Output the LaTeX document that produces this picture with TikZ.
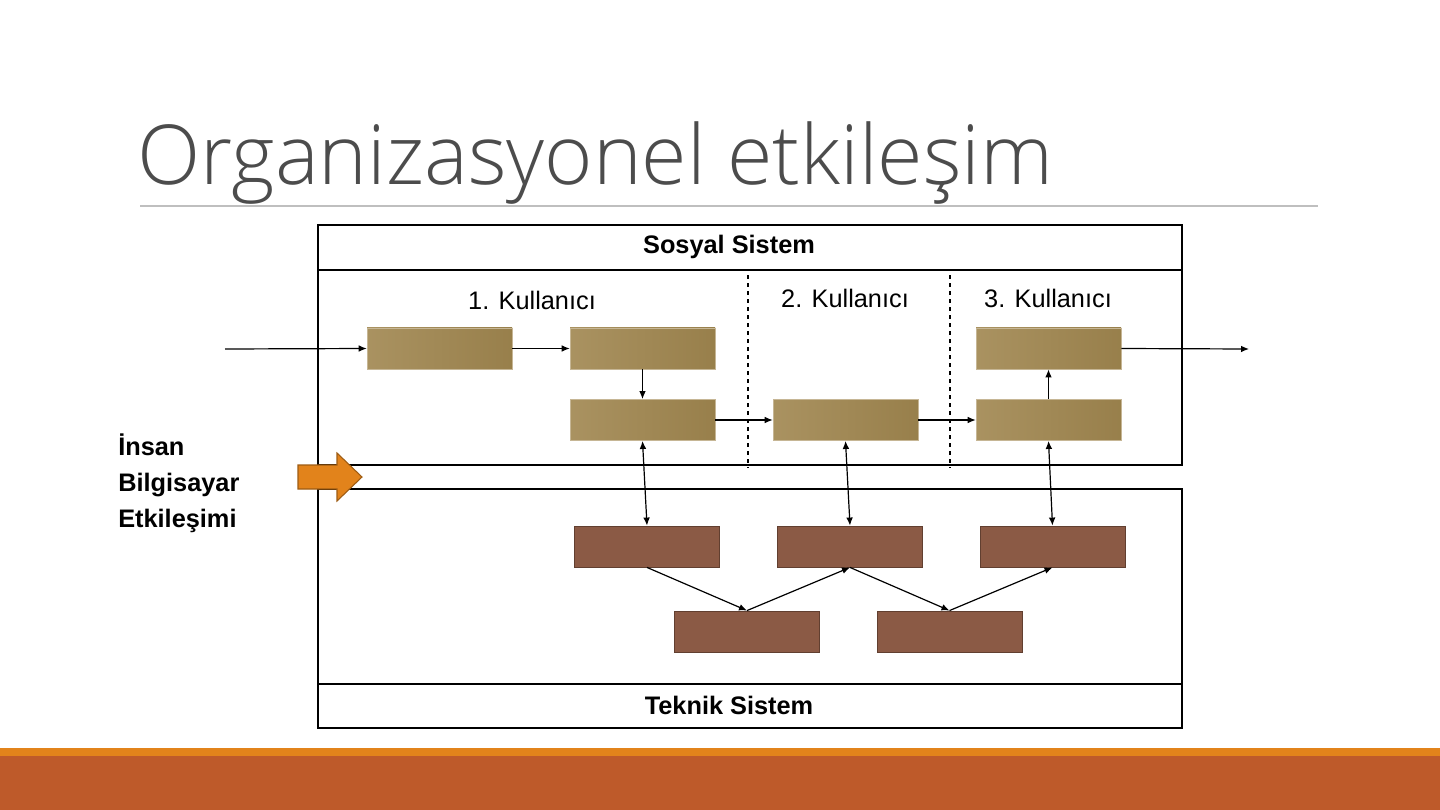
\documentclass[tikz,border=0pt]{standalone}
\usepackage{fontspec}
\setmainfont{Liberation Sans}
\newfontfamily\titlefont{Open Sans Light}
\usetikzlibrary{arrows.meta,shapes.arrows}
\definecolor{tan}{HTML}{A0864F}
\definecolor{brn}{HTML}{8B5A45}
\definecolor{orng}{HTML}{E2831B}
\definecolor{rust}{HTML}{BE5A2A}
\tikzset{
 tb/.style={draw=tan!60!white,fill=tan,minimum width=108.75pt,minimum height=31pt,inner sep=0pt,shade,left color=tan!90!white,right color=tan!95!black},
 bb/.style={draw=brn!70!black,fill=brn,minimum width=108.75pt,minimum height=31pt,inner sep=0pt},
 ar/.style={-{Latex[length=6pt,width=5pt]},line width=0.9pt},
 dar/.style={{Latex[length=6pt,width=5pt]}-{Latex[length=6pt,width=5pt]},line width=0.9pt},
 lab/.style={font=\fontsize{19}{22}\selectfont,inner sep=0pt},
}
\begin{document}
\begin{tikzpicture}[x=0.75pt,y=-0.75pt]
\useasboundingbox (0,0) rectangle (1440,810);
\fill[white] (0,0) rectangle (1440,810);
\fill[orng] (0,748) rectangle (1440,756);
\fill[rust] (0,756) rectangle (1440,810);
\node[anchor=base west,inner sep=0pt,text=black!70,font=\titlefont\fontsize{62}{70}\selectfont] (title) at (137,184) {Organizasyonel etkileşim};
\draw[black!25,line width=0.8pt] (140,206) -- (1318,206);
% boxes
\draw[line width=1pt] (318,225) rectangle (1182,465);
\draw[line width=1pt] (318,270) -- (1182,270);
\node[lab,font=\bfseries\fontsize{19}{22}\selectfont] (sos) at (729,247) {Sosyal Sistem};
\draw[line width=1pt] (318,489) rectangle (1182,728);
\draw[line width=1pt] (318,684) -- (1182,684);
\node[lab,font=\bfseries\fontsize{19}{22}\selectfont] (tek) at (729,705) {Teknik Sistem};
\draw[dashed,line width=0.8pt] (748,275) -- (748,468);
\draw[dashed,line width=0.8pt] (950,275) -- (950,468);
\node[lab] (k1) at (532,300) {1. Kullanıcı};
\node[lab] (k2) at (845,298) {2. Kullanıcı};
\node[lab] (k3) at (1048,298) {3. Kullanıcı};
% tan boxes
\node[tb] (t1) at (439.5,348.5) {};
\node[tb] (t2) at (642.5,348.5) {};
\node[tb] (t3) at (642.5,420) {};
\node[tb] (t4) at (845.5,420) {};
\node[tb] (t5) at (1048.5,348.5) {};
\node[tb] (t6) at (1048.5,420) {};
% brown boxes
\node[bb] (b1) at (647,546.5) {};
\node[bb] (b2) at (850,546.5) {};
\node[bb] (b3) at (1052.5,546.5) {};
\node[bb] (b4) at (747,631.5) {};
\node[bb] (b5) at (949.5,631.5) {};
\coordinate (in) at (225,349);
\coordinate (out) at (1249,349);
\draw[ar] (in) -- (t1.west);
\draw[ar] (t1.east) -- (t2.west);
\draw[ar] (t2.south) -- (t3.north);
\draw[ar] (t3.east) -- (t4.west);
\draw[ar] (t4.east) -- (t6.west);
\draw[ar] (t6.north) -- (t5.south);
\draw[ar] (t5.east) -- (out);
\draw[dar] (t3.south) -- (b1.north);
\draw[dar] (t4.south) -- (b2.north);
\draw[dar] (t6.south) -- (b3.north);
\draw[ar] (b1.south) -- (b4.north);
\draw[ar] (b4.north) -- (b2.south);
\draw[ar] (b2.south) -- (b5.north);
\draw[ar] (b5.north) -- (b3.south);
% orange arrow
\draw[orng!70!black,fill=orng,line width=0.8pt] (298,465) -- (337,465) -- (337,453) -- (362,477) -- (337,501) -- (337,489) -- (298,489) -- cycle;
\node[anchor=north west,align=left,inner sep=0pt,font=\bfseries\fontsize{19}{27}\selectfont] (hci) at (118,434) {İnsan\\Bilgisayar\\Etkileşimi};
\end{tikzpicture}
\end{document}
